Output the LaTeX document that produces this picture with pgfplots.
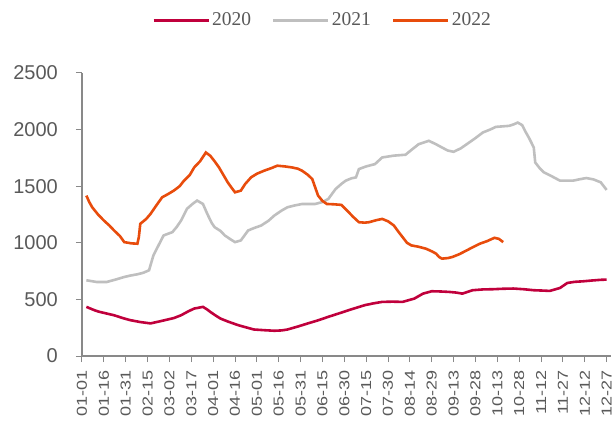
\documentclass[border=0pt]{standalone}
\usepackage{pgfplots}
\pgfplotsset{compat=1.18}
\usepackage{fontspec}
\setmainfont{Liberation Sans}
\newfontfamily\legfont{Liberation Serif}

\definecolor{c20}{RGB}{192,0,60}
\definecolor{c21}{RGB}{191,191,191}
\definecolor{c22}{RGB}{232,76,12}
\definecolor{axgray}{RGB}{137,137,137}
\definecolor{txtgray}{RGB}{89,89,89}
\newcommand{\xl}[1]{\scalebox{1}[0.8]{#1}}

\begin{document}
\begin{tikzpicture}
\begin{axis}[
    at={(0,0)}, anchor=south west,
    scale only axis, width=529bp, height=283bp,
    xmin=0, xmax=363, ymin=0, ymax=2500,
    axis lines=left,
    axis line style={-, axgray, line width=1.2bp},
    tick align=outside, major tick length=6bp,
    tick style={axgray, line width=1bp},
    xtick={0,15,...,360},
    xticklabels={\xl{01-01},\xl{01-16},\xl{01-31},\xl{02-15},\xl{03-02},\xl{03-17},\xl{04-01},\xl{04-16},\xl{05-01},\xl{05-16},\xl{05-31},\xl{06-15},\xl{06-30},\xl{07-15},\xl{07-30},\xl{08-14},\xl{08-29},\xl{09-13},\xl{09-28},\xl{10-13},\xl{10-28},\xl{11-12},\xl{11-27},\xl{12-12},\xl{12-27}},
    ytick={0,500,...,2500},
    xticklabel style={rotate=90, anchor=east, inner sep=0pt, text=txtgray,
        font=\fontsize{18bp}{18bp}\selectfont},
    yticklabel style={inner sep=0pt, text=txtgray,
        font=\fontsize{20bp}{20bp}\selectfont},
    xticklabel shift=8bp,
    yticklabel shift=18bp,
    /pgf/number format/assume math mode=true,
    /pgf/number format/1000 sep={},
    legend columns=3,
    legend image code/.code={\draw[#1, line width=3bp] (0bp,0bp) -- (55bp,0bp);},
    legend style={at={(axis description cs:0.4546,1.187)}, anchor=center,
        draw=none, fill=none, text=txtgray,
        font=\legfont\fontsize{19.5bp}{19.5bp}\selectfont,
        /tikz/every even column/.append style={column sep=19bp}},
]

% 2020
\addplot[c20, line width=2.6bp] coordinates {
(3,434)(6,418)(9,402)(12,390)(17,375)(22,360)(28,335)(33,317)(40,300)(47,288)
(53,305)(58,320)(63,335)(68,360)(73,395)(77,419)(83,434)(86,410)(88,390)(92,355)
(95,331)(100,305)(107,273)(112,255)(118,234)(125,228)(132,223)(137,226)(141,234)
(148,260)(155,288)(162,315)(169,346)(176,375)(183,405)(188,425)(194,449)(200,465)
(206,478)(213,480)(220,478)(228,507)(234,551)(240,572)(246,570)(252,566)(257,560)
(261,551)(268,581)(275,588)(282,590)(289,594)(296,596)(303,590)(310,581)(316,578)
(321,575)(328,601)(333,645)(338,655)(344,660)(350,667)(356,673)(360,675)
};
\addlegendentry{2020}

% 2021
\addplot[c21, line width=2.6bp] coordinates {
(3,669)(10,654)(17,654)(23,675)(29,698)(33,710)(38,722)(42,735)(46,757)
(49,889)(53,990)(56,1065)(62,1094)(65,1140)(68,1197)(72,1300)(76,1345)(79,1373)
(83,1343)(86,1255)(89,1175)(91,1138)(95,1105)(98,1065)(102,1030)(105,1006)(109,1021)
(114,1109)(118,1130)(123,1153)(128,1195)(132,1241)(137,1285)(141,1314)(146,1330)
(151,1343)(156,1343)(160,1343)(165,1360)(169,1387)(174,1475)(178,1520)(181,1549)
(185,1570)(188,1578)(190,1651)(195,1675)(201,1695)(206,1754)(214,1770)(222,1778)
(226,1820)(231,1871)(238,1901)(243,1870)(247,1842)(251,1815)(255,1804)(260,1835)
(264,1871)(270,1925)(275,1974)(280,2000)(284,2024)(290,2030)(293,2033)(296,2045)
(299,2062)(302,2040)(304,1989)(307,1920)(310,1842)(311,1710)(314,1660)(317,1622)
(322,1590)(328,1549)(333,1549)(337,1549)(341,1560)(346,1572)(351,1560)(356,1534)
(358,1500)(360,1467)
};
\addlegendentry{2021}

% 2022
\addplot[c22, line width=2.6bp] coordinates {
(3,1417)(5,1360)(7,1314)(11,1250)(15,1197)(19,1150)(22,1109)(26,1060)(29,1006)
(34,995)(38,992)(39,1050)(40,1168)(44,1210)(47,1255)(51,1330)(55,1402)(59,1430)
(63,1461)(67,1500)(70,1549)(74,1600)(77,1666)(81,1720)(85,1798)(88,1769)(91,1720)
(94,1666)(97,1600)(100,1534)(103,1480)(105,1446)(109,1461)(112,1520)(116,1578)
(120,1610)(125,1637)(130,1660)(134,1681)(139,1675)(144,1666)(148,1655)(151,1637)
(155,1600)(158,1563)(160,1490)(162,1417)(165,1370)(168,1343)(173,1340)(178,1335)
(183,1270)(186,1230)(190,1182)(194,1178)(197,1182)(202,1200)(206,1211)(210,1190)
(214,1153)(217,1100)(220,1050)(223,1000)(226,977)(231,965)(236,948)(240,925)
(243,904)(245,875)(247,860)(251,865)(254,874)(259,900)(264,933)(268,960)(273,992)
(278,1015)(283,1044)(286,1035)(289,1006)
};
\addlegendentry{2022}

\end{axis}
\pgfresetboundingbox
\path (-82bp,-67bp) rectangle (533bp,356bp);
\end{tikzpicture}
\end{document}
